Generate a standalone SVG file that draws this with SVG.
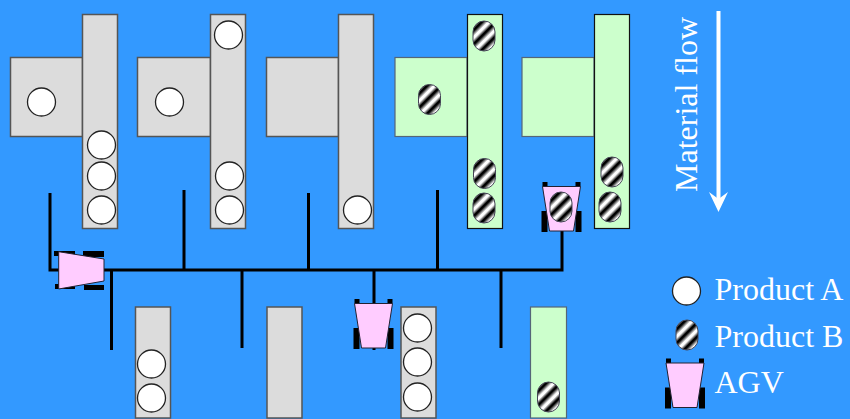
<svg xmlns="http://www.w3.org/2000/svg" xmlns:xlink="http://www.w3.org/1999/xlink" width="850" height="419" viewBox="0 0 850 419">
<style>
.g{fill:#dcdcdc;stroke:#555;stroke-width:1.5}
.n{fill:#ccffcc;stroke:#567;stroke-width:1.2}
.nd{fill:#ccffcc;stroke:#111;stroke-width:1.2}
.a{fill:#fff;stroke:#222;stroke-width:1.3}
.c{stroke:#000;stroke-width:3;fill:none}
.w{fill:#000}
.b{fill:#ffccff;stroke:#223;stroke-width:1}
.t{font-family:"Liberation Serif","Times New Roman",serif;font-size:32px;fill:#fff}
</style>
<defs>
<linearGradient id="st" gradientUnits="userSpaceOnUse" x1="-1.500" y1="-1.500" x2="5.500" y2="5.500" spreadMethod="repeat">
<stop offset="0" stop-color="#000"/><stop offset=".12" stop-color="#000"/><stop offset=".5" stop-color="#fff"/><stop offset=".68" stop-color="#fff"/><stop offset="1" stop-color="#000"/>
</linearGradient>
<circle id="pa" r="14" class="a"/>
<rect id="pb" x="-11" y="-15" width="22" height="30" rx="11" ry="11" fill="url(#st)" stroke="#445" stroke-width="1"/>
<g id="agv">
<rect class="w" x="-19" y="-24" width="5" height="5"/><rect class="w" x="14" y="-24" width="5" height="5"/>
<rect class="w" x="-20" y="5" width="6" height="21"/><rect class="w" x="14" y="5" width="6" height="21"/>
<polygon class="b" points="-19,-19.500 19,-19.500 12,25 -12,25"/>
</g>
</defs>
<rect width="850" height="419" fill="#3399ff"/>
<g id="connectors">
<path class="c" d="M50 193V270M184 190V270M308.500 193V270M437.500 190V270M562 230V270M111.500 270V350M242 270V348M374 270V350M501 270V348M48.500 270H563.500"/>
</g>
<g id="machine1"><rect class="g" x="10.500" y="57.500" width="72" height="79"/><rect class="g" x="82.500" y="14.500" width="35" height="214"/><use xlink:href="#pa" x="41.500" y="102"/><use xlink:href="#pa" x="101.500" y="145"/><use xlink:href="#pa" x="101.500" y="176"/><use xlink:href="#pa" x="101.500" y="210"/></g>
<g id="machine2"><rect class="g" x="137.500" y="57.500" width="73" height="79"/><rect class="g" x="210.500" y="14.500" width="35" height="214"/><use xlink:href="#pa" x="169.500" y="102"/><use xlink:href="#pa" x="228.500" y="35"/><use xlink:href="#pa" x="229.500" y="176"/><use xlink:href="#pa" x="229.500" y="210"/></g>
<g id="machine3"><rect class="g" x="266.500" y="57.500" width="72" height="79"/><rect class="g" x="338.500" y="14.500" width="35" height="214"/><use xlink:href="#pa" x="357.500" y="210"/></g>
<g id="machine4"><rect class="n" x="395" y="57.500" width="72" height="79"/><rect class="nd" x="467.500" y="14.500" width="35" height="214"/><use xlink:href="#pb" x="429.500" y="99.500"/><use xlink:href="#pb" x="484" y="36"/><use xlink:href="#pb" x="484.500" y="173.500"/><use xlink:href="#pb" x="484" y="208"/></g>
<g id="machine5"><rect class="n" x="522" y="57.500" width="72" height="79"/><rect class="nd" x="594.500" y="14.500" width="35" height="214"/><use xlink:href="#pb" x="612" y="172"/><use xlink:href="#pb" x="610" y="207"/></g>
<g id="station1"><rect class="g" x="135.500" y="307" width="35" height="111"/><use xlink:href="#pa" x="151.500" y="364"/><use xlink:href="#pa" x="151.500" y="398"/></g>
<g id="station2"><rect class="g" x="267" y="307" width="35" height="111"/></g>
<g id="station3"><rect class="g" x="401" y="307" width="35" height="111"/><use xlink:href="#pa" x="417.500" y="328"/><use xlink:href="#pa" x="417.500" y="362"/><use xlink:href="#pa" x="417.500" y="397"/></g>
<g id="station4"><rect class="n" x="530.500" y="307" width="36" height="111"/><use xlink:href="#pb" x="548.500" y="397"/></g>
<g id="agv-left"><rect class="w" x="54" y="251" width="21" height="5"/><rect class="w" x="83" y="251" width="21" height="6"/><rect class="w" x="55" y="284" width="20" height="5"/><rect class="w" x="84" y="285" width="20" height="5"/><polygon class="b" points="58.700,251.700 104,259 104,281 58.700,289"/></g>
<g id="agv-center"><use xlink:href="#agv" x="373.500" y="323"/></g>
<g id="agv-right"><use xlink:href="#agv" x="561.500" y="206"/><use xlink:href="#pb" x="561" y="207"/></g>
<g id="flow"><text class="t" transform="translate(696.500 192) rotate(-90)">Material flow</text><path d="M718.500 11V200" stroke="#fff" stroke-width="4" fill="none"/><path d="M709 192L718.500 212L728 192L718.500 199Z" fill="#fff"/></g>
<g id="legend-a"><use xlink:href="#pa" x="686.500" y="291"/><text class="t" x="714.500" y="300">Product A</text></g>
<g id="legend-b"><use xlink:href="#pb" x="687" y="335"/><text class="t" x="714.500" y="347">Product B</text></g>
<g id="legend-agv"><use xlink:href="#agv" x="685" y="382.500"/><text class="t" x="714.500" y="393">AGV</text></g>
</svg>
